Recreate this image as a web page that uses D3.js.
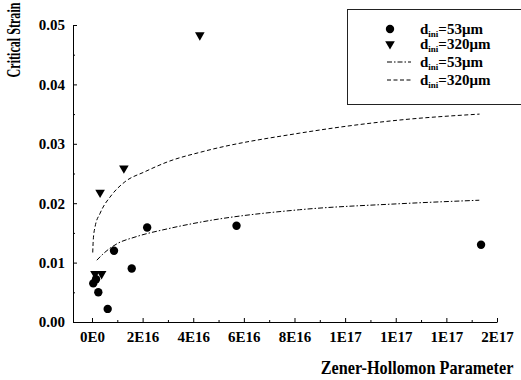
<!DOCTYPE html>
<html>
<head>
<meta charset="utf-8">
<script src="https://cdn.jsdelivr.net/npm/d3@7"></script>
<style>
  body { margin: 0; background: #fff; }
  svg { display: block; }
  svg text { font-family: "Liberation Serif", "Times New Roman", Times, "DejaVu Serif", serif; fill: #000; }
</style>
</head>
<body>
<svg id="chart" width="521" height="380"></svg>
<script>
// measured points, d_ini = 53um (circles)
const z53 = [0.05e16, 0.16e16, 0.25e16, 0.62e16, 0.87e16, 1.57e16, 2.18e16, 5.71e16, 15.37e16];
const strain53 = [0.0065, 0.0072, 0.0050, 0.0022, 0.0120, 0.0090, 0.0159, 0.0162, 0.0130];

// measured points, d_ini = 320um (triangles)
const z320 = [0.12e16, 0.38e16, 0.32e16, 1.26e16, 4.26e16];
const strain320 = [0.0081, 0.0081, 0.0218, 0.0259, 0.0483];

// fitted curves
const fitZ53 = [0.19e16, 0.5e16, 1.0e16, 1.7e16, 3.0e16, 4.4e16, 8.2e16, 12.1e16, 15.3e16];
const fit53 = [0.0104, 0.0117, 0.0132, 0.0143, 0.0157, 0.0169, 0.0189, 0.0199, 0.0205];
const fitZ320 = [0.03e16, 0.05e16, 0.12e16, 0.32e16, 0.78e16, 1.30e16, 2.09e16, 3.01e16, 4.39e16, 8.21e16, 12.15e16, 15.31e16];
const fit320 = [0.0117, 0.0138, 0.0160, 0.0183, 0.0214, 0.0236, 0.0253, 0.0270, 0.0287, 0.0318, 0.0340, 0.0350];

// ticks
const xTicks = [0, 2e16, 4e16, 6e16, 8e16, 1e17, 1.2e17, 1.4e17, 1.6e17];
const xTickLabels = ['0E0', '2E16', '4E16', '6E16', '8E16', '1E17', '1E17', '1E17', '2E17'];
const yTicks = [0, 0.01, 0.02, 0.03, 0.04, 0.05];
const yTickLabels = ['0.00', '0.01', '0.02', '0.03', '0.04', '0.05'];

const serif = '"Liberation Serif", "Times New Roman", Times, "DejaVu Serif", serif';

const svg = d3.select('#chart');

const x = d3.scaleLinear().domain([-0.75e16, 1.6e17]).range([73, 497]);
const y = d3.scaleLinear().domain([0, 0.05]).range([322, 25]);

// minor ticks
svg.append('g')
  .attr('transform', 'translate(0,322)')
  .call(d3.axisBottom(x).tickValues(d3.range(1e16, 1.6e17, 2e16)).tickFormat('').tickSize(-2))
  .call(g => g.select('.domain').remove());
svg.append('g')
  .attr('transform', 'translate(73,0)')
  .call(d3.axisLeft(y).tickValues(d3.range(0.005, 0.05, 0.01)).tickFormat('').tickSize(-2))
  .call(g => g.select('.domain').remove());

svg.append('g')
  .attr('transform', 'translate(0,322)')
  .call(d3.axisBottom(x).tickValues(xTicks).tickFormat((d, i) => xTickLabels[i])
    .tickSizeInner(-4).tickSizeOuter(0).tickPadding(9))
  .attr('font-family', serif);

svg.append('g')
  .attr('transform', 'translate(73,0)')
  .call(d3.axisLeft(y).tickValues(yTicks).tickFormat((d, i) => yTickLabels[i])
    .tickSizeInner(-4).tickSizeOuter(0).tickPadding(8))
  .attr('font-family', serif);

svg.selectAll('.tick text')
  .attr('font-family', serif)
  .style('font-size', '15px')
  .style('font-weight', 'bold');

// axis titles, squeezed horizontally to the width seen in the scan
function squeezed(txt, size, w, tf) {
  const t = svg.append('text')
    .attr('font-family', serif)
    .attr('text-anchor', 'middle')
    .style('font-size', size + 'px')
    .style('font-weight', 'bold')
    .text(txt);
  const sx = w / t.node().getComputedTextLength();
  t.attr('transform', tf + ' scale(' + sx + ',1)');
  return t;
}
squeezed('Critical Strain', 18, 75, 'translate(20,40) rotate(-90)');
squeezed('Zener-Hollomon Parameter', 18, 193, 'translate(417,374)');

// fitted curves
const line = d3.line().x(d => x(d[0])).y(d => y(d[1])).curve(d3.curveMonotoneX);

svg.append('path')
  .datum(d3.zip(fitZ53, fit53))
  .attr('d', line)
  .attr('fill', 'none')
  .attr('stroke', '#000')
  .attr('stroke-width', 1)
  .attr('stroke-dasharray', '5,2,1.5,2');

svg.append('path')
  .datum(d3.zip(fitZ320, fit320))
  .attr('d', line)
  .attr('fill', 'none')
  .attr('stroke', '#000')
  .attr('stroke-width', 1)
  .attr('stroke-dasharray', '4,2.5');

// markers
const circle = d3.symbol().type(d3.symbolCircle).size(55);
const tri = d3.symbol().type(d3.symbolTriangle).size(40);

svg.append('g').selectAll('path')
  .data(d3.zip(z53, strain53))
  .join('path')
  .attr('d', circle)
  .attr('transform', d => 'translate(' + x(d[0]) + ',' + y(d[1]) + ')');

svg.append('g').selectAll('path')
  .data(d3.zip(z320, strain320))
  .join('path')
  .attr('d', tri)
  .attr('transform', d => 'translate(' + x(d[0]) + ',' + y(d[1]) + ') rotate(180)');

// legend
const legend = svg.append('g');
legend.append('rect')
  .attr('x', 347.5).attr('y', 9.5)
  .attr('width', 190).attr('height', 95)
  .attr('fill', 'none')
  .attr('stroke', '#222')
  .attr('stroke-width', 1);

const legendRows = [
  {y: 29, kind: 'circle', label: '=53\u03bcm'},
  {y: 44, kind: 'tri', label: '=320\u03bcm'},
  {y: 62, kind: 'dashdot', label: '=53\u03bcm'},
  {y: 80, kind: 'dash', label: '=320\u03bcm'}
];

legendRows.forEach(r => {
  if (r.kind === 'circle') {
    legend.append('path').attr('d', circle).attr('transform', 'translate(390,' + r.y + ')');
  } else if (r.kind === 'tri') {
    legend.append('path').attr('d', tri).attr('transform', 'translate(390,' + r.y + ') rotate(180)');
  } else {
    legend.append('line')
      .attr('x1', 387).attr('x2', 411).attr('y1', r.y).attr('y2', r.y)
      .attr('stroke', '#000').attr('stroke-width', 1)
      .attr('stroke-dasharray', r.kind === 'dash' ? '4,2.5' : '5,2,1.5,2');
  }
  const t = legend.append('text')
    .attr('x', 420).attr('y', r.y + 5)
    .attr('font-family', serif)
    .style('font-size', '15px')
    .style('font-weight', 'bold');
  t.append('tspan').text('d');
  t.append('tspan').attr('dy', 3).style('font-size', '9px').text('ini');
  t.append('tspan').attr('dy', -3).text(r.label);
});
</script>
</body>
</html>
